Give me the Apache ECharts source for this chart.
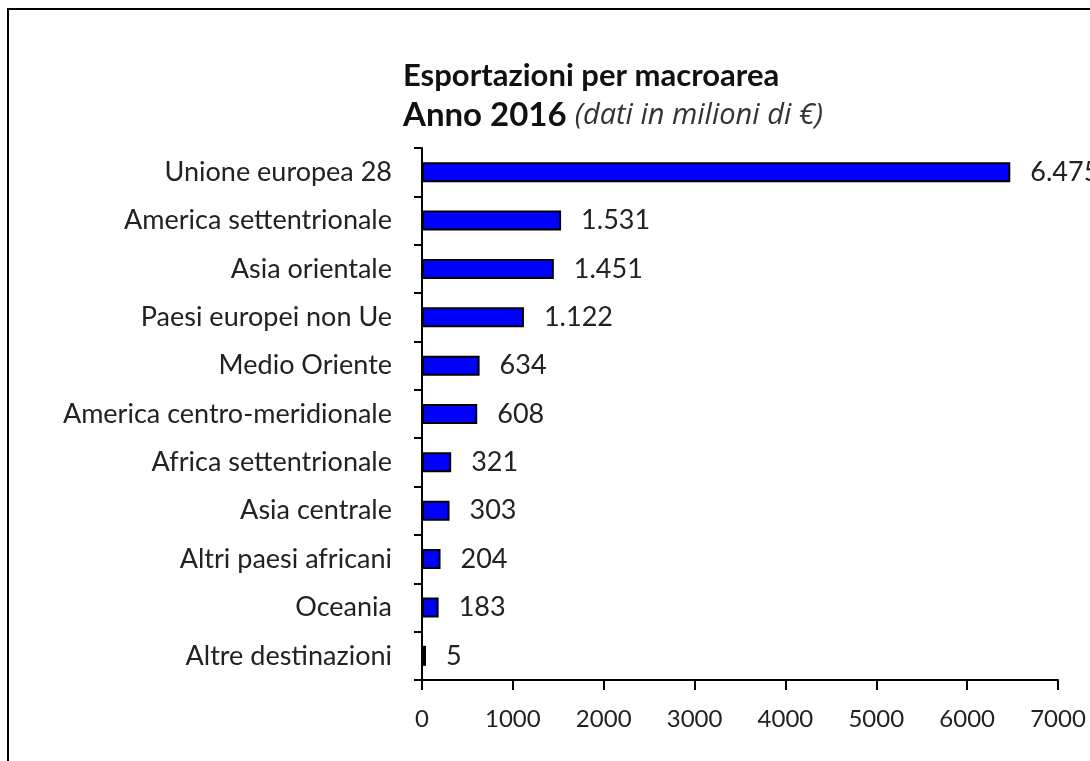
<!DOCTYPE html>
<html>
<head>
<meta charset="utf-8">
<script src="https://cdn.jsdelivr.net/npm/echarts@6/dist/echarts.min.js"></script>
<style>
  html, body { margin: 0; padding: 0; background: #fff; }
  #chart { width: 1090px; height: 761px; }
</style>
</head>
<body>
<div id="chart"></div>
<script>
// macroaree di destinazione
var areas = ['Unione europea 28', 'America settentrionale', 'Asia orientale', 'Paesi europei non Ue',
    'Medio Oriente', 'America centro-meridionale', 'Africa settentrionale', 'Asia centrale',
    'Altri paesi africani', 'Oceania', 'Altre destinazioni'];
// esportazioni 2016, milioni di euro
var exportValues = [6475, 1531, 1451, 1122, 634, 608, 321, 303, 204, 183, 5];
var xTicks = [0, 1000, 2000, 3000, 4000, 5000, 6000, 7000];

function fmt(v) {
    return String(v).replace(/\B(?=(\d{3})+(?!\d))/g, '.');
}

var font = 'Lato, "Noto Sans", sans-serif';
var chart = echarts.init(document.getElementById('chart'));

var option = {
    animation: false,
    textStyle: { fontFamily: font },
    graphic: [
        { type: 'rect', shape: { x: 7, y: 8, width: 2, height: 753 }, style: { fill: '#000' } },
        { type: 'rect', shape: { x: 7, y: 8, width: 1083, height: 2 }, style: { fill: '#000' } }
    ],
    title: {
        left: 398,
        top: 55,
        text: 'Esportazioni per macroarea',
        subtext: '{b|Anno 2016}{s| }{i|(dati in milioni di €)}',
        itemGap: 8,
        textStyle: { fontFamily: font, fontSize: 31, fontWeight: 'bold', color: '#111' },
        subtextStyle: {
            rich: {
                b: { fontFamily: font, fontSize: 33, fontWeight: 'bold', color: '#111' },
                s: { fontFamily: font, fontSize: 18, width: 8 },
                i: { fontFamily: '"Open Sans", sans-serif', fontSize: 29, fontStyle: 'italic', color: '#333' }
            }
        }
    },
    grid: { left: 422, right: 32, top: 148, bottom: 81, containLabel: false },
    xAxis: {
        type: 'value',
        min: xTicks[0],
        max: xTicks[xTicks.length - 1],
        interval: 1000,
        splitLine: { show: false },
        axisLine: { show: true, lineStyle: { color: '#000', width: 2 } },
        axisTick: { show: true, length: 10, lineStyle: { color: '#000', width: 2 } },
        axisLabel: { fontSize: 24, color: '#222', margin: 27, formatter: function (v) { return String(v); } }
    },
    yAxis: {
        type: 'category',
        inverse: true,
        data: areas,
        axisLine: { lineStyle: { color: '#000', width: 2 } },
        axisTick: { show: true, length: 8, lineStyle: { color: '#000', width: 2 } },
        axisLabel: { fontSize: 27, color: '#222', margin: 30 }
    },
    series: [{
        type: 'bar',
        data: exportValues,
        barWidth: 20,
        barMinHeight: 4,
        itemStyle: { color: '#0000ff', borderColor: '#000', borderWidth: 2 },
        label: {
            show: true,
            position: 'right',
            distance: 20,
            fontSize: 27,
            color: '#222',
            formatter: function (p) { return fmt(p.value); }
        }
    }]
};

chart.setOption(option);
</script>
</body>
</html>
